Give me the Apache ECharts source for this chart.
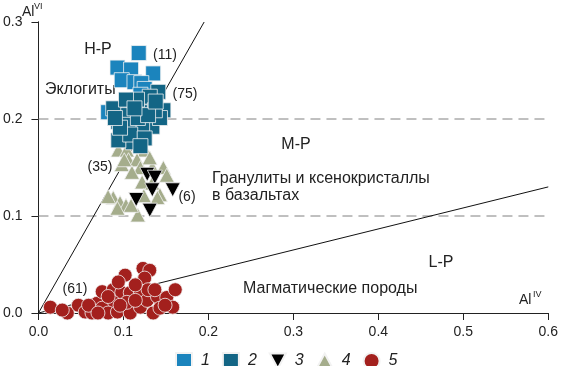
<!DOCTYPE html>
<html>
<head>
<meta charset="utf-8">
<script src="https://cdn.jsdelivr.net/npm/echarts@6/dist/echarts.min.js"></script>
<style>html,body{margin:0;padding:0;background:#fff}#c{width:561px;height:366px}</style>
</head>
<body>
<div id="c"></div>
<script>
// ---- data ----
const xTickLabels = ['0.0','0.1','0.2','0.3','0.4','0.5','0.6'];
const yTickLabels = ['0.0','0.1','0.2','0.3'];
const seriesNames = ['1','2','3','4','5'];

// 1: light-blue squares (eclogites, n=11)
const series1 = [[0.118,0.268],[0.093,0.253],[0.109,0.251],[0.135,0.247],[0.098,0.240],[0.113,0.238],[0.121,0.237],[0.125,0.231],[0.120,0.225],[0.082,0.207],[0.137,0.209]];
// 2: dark-blue squares (eclogites, n=75)
const series2 = [[0.141,0.228],[0.147,0.209],[0.125,0.214],[0.106,0.212],[0.094,0.197],[0.110,0.199],[0.128,0.197],[0.134,0.192],[0.114,0.186],[0.098,0.186],[0.111,0.176],[0.120,0.207],[0.131,0.223],[0.102,0.204],[0.088,0.211],[0.143,0.201],[0.122,0.189],[0.106,0.194],[0.094,0.178],[0.116,0.220],[0.137,0.209],[0.108,0.184],[0.125,0.180],[0.096,0.191],[0.117,0.201],[0.129,0.204],[0.090,0.201],[0.103,0.220],[0.138,0.218],[0.113,0.211],[0.120,0.172]];
// 3: black down-triangles (n=6)
const series3 = [[0.128,0.143],[0.137,0.140],[0.134,0.127],[0.158,0.127],[0.115,0.117],[0.131,0.106]];
// 4: grey-green triangles (granulites, n=35)
const series4 = [[0.094,0.168],[0.104,0.168],[0.125,0.168],[0.106,0.158],[0.116,0.158],[0.098,0.153],[0.120,0.150],[0.134,0.150],[0.147,0.150],[0.110,0.145],[0.122,0.135],[0.134,0.134],[0.151,0.142],[0.143,0.122],[0.088,0.119],[0.096,0.114],[0.103,0.111],[0.093,0.108],[0.117,0.101],[0.140,0.119],[0.109,0.111],[0.082,0.120],[0.124,0.121],[0.101,0.158],[0.131,0.160]];
// 5: red circles (magmatic rocks, n=61)
const series5 = [[0.014,0.006],[0.034,0.000],[0.047,0.008],[0.055,0.001],[0.069,0.010],[0.075,0.022],[0.088,0.024],[0.102,0.039],[0.123,0.046],[0.131,0.044],[0.125,0.036],[0.098,0.021],[0.108,0.021],[0.120,0.022],[0.088,0.011],[0.075,0.005],[0.082,0.000],[0.093,0.001],[0.108,0.000],[0.120,0.006],[0.128,0.013],[0.135,0.000],[0.140,0.017],[0.151,0.016],[0.161,0.024],[0.158,0.006],[0.104,0.011],[0.063,0.000],[0.143,0.005],[0.114,0.013],[0.096,0.008],[0.129,0.024],[0.149,0.008],[0.082,0.017],[0.059,0.008],[0.114,0.029],[0.137,0.024],[0.094,0.032],[0.070,0.000],[0.028,0.003]];

// boundary lines between pressure fields
const hpBoundary = [[0,0],[0.195,0.3]];
const lpBoundary = [[0,0],[0.6,0.13]];
const dashLevels = [0.1, 0.2];

// ---- chart ----
const FONT = 'Arial, "Liberation Sans", sans-serif';
const chart = echarts.init(document.getElementById('c'), null, {renderer:'canvas'});
const border = {borderColor:'#f2f2f2', borderWidth:0.8};

const dashSeries = dashLevels.map(v => ({
  type:'line', data:[[0,v],[0.6,v]], symbol:'none', silent:true, z:1,
  lineStyle:{color:'#808080', width:1, type:[10,6]}
}));

const legendIcons = ['rect','rect','path://M0,0L14,0L7,13Z','path://M7,0L14,13L0,13Z','circle'];

chart.setOption({
  animation:false,
  textStyle:{fontFamily:FONT},
  grid:{left:38, right:11, top:22, bottom:53},
  xAxis:[{
    type:'value', min:0, max:0.6, interval:0.1,
    axisLine:{show:true, lineStyle:{color:'#808080', width:1}},
    axisTick:{show:true, length:7, lineStyle:{color:'#222'}},
    axisLabel:{fontSize:14, color:'#222', margin:12, fontFamily:FONT,
      formatter:(v)=>xTickLabels[Math.round(v*10)]},
    splitLine:{show:false}
  },{
    type:'value', min:0, max:0.6, position:'top',
    axisLine:{show:true, lineStyle:{color:'#222'}},
    axisTick:{show:false}, axisLabel:{show:false}, splitLine:{show:false}
  }],
  yAxis:[{
    type:'value', min:0, max:0.3, interval:0.1,
    axisLine:{show:true, lineStyle:{color:'#222', width:1}},
    axisTick:{show:true, length:7, lineStyle:{color:'#222'}},
    axisLabel:{fontSize:14, color:'#222', margin:16, fontFamily:FONT,
      formatter:(v)=>yTickLabels[Math.round(v*10)]},
    splitLine:{show:false}
  },{
    type:'value', min:0, max:0.3, position:'right',
    axisLine:{show:true, lineStyle:{color:'#222'}},
    axisTick:{show:false}, axisLabel:{show:false}, splitLine:{show:false}
  }],
  legend:{
    data:seriesNames.map((n,i)=>({name:n, icon:legendIcons[i]})),
    left:170, top:347, itemWidth:16, itemHeight:16, itemGap:12,
    textStyle:{fontSize:16, fontStyle:'italic', color:'#222', fontFamily:FONT, padding:[0,0,0,4]}
  },
  series:[
    ...dashSeries,
    {type:'line', data:hpBoundary, symbol:'none', silent:true, z:1, lineStyle:{color:'#111', width:1}},
    {type:'line', data:lpBoundary, symbol:'none', silent:true, z:1, lineStyle:{color:'#111', width:1}},
    {name:'5', type:'scatter', data:series5, symbol:'circle', symbolSize:14, clip:false, z:2,
      itemStyle:Object.assign({color:'#a3201d', opacity:1}, border)},
    {name:'4', type:'scatter', data:series4, symbol:'triangle', symbolSize:[15,14], clip:false, z:2,
      itemStyle:Object.assign({color:'#a5ad8c', opacity:1}, border)},
    {name:'3', type:'scatter', data:series3, symbol:'triangle', symbolRotate:180, symbolSize:[15,14], clip:false, z:2,
      itemStyle:Object.assign({color:'#000000', opacity:1}, border)},
    {name:'1', type:'scatter', data:series1, symbol:'rect', symbolSize:15, clip:false, z:2,
      itemStyle:Object.assign({color:'#1b84bd', opacity:1}, border)},
    {name:'2', type:'scatter', data:series2, symbol:'rect', symbolSize:15, clip:false, z:2,
      itemStyle:Object.assign({color:'#136585', opacity:1}, border)}
  ],
  graphic:[
    {type:'text', x:22, y:12, style:{text:'Al', font:'14px '+FONT, fill:'#222', textVerticalAlign:'middle'}},
    {type:'text', x:34, y:7, style:{text:'VI', font:'9px '+FONT, fill:'#222', textVerticalAlign:'middle'}},
    {type:'text', x:519, y:300, style:{text:'Al', font:'14px '+FONT, fill:'#222', textVerticalAlign:'middle'}},
    {type:'text', x:533, y:295, style:{text:'IV', font:'9px '+FONT, fill:'#222', textVerticalAlign:'middle'}},
    {type:'text', x:98, y:50, style:{text:'H-P', font:'16px '+FONT, fill:'#222', textAlign:'center', textVerticalAlign:'middle'}},
    {type:'text', x:45, y:90, style:{text:'Эклогиты', font:'16px '+FONT, fill:'#222', textVerticalAlign:'middle'}},
    {type:'text', x:296, y:145, style:{text:'M-P', font:'16px '+FONT, fill:'#222', textAlign:'center', textVerticalAlign:'middle'}},
    {type:'text', x:212, y:179, style:{text:'Гранулиты и ксенокристаллы', font:'16px '+FONT, fill:'#222', textVerticalAlign:'middle'}},
    {type:'text', x:212, y:196, style:{text:'в базальтах', font:'16px '+FONT, fill:'#222', textVerticalAlign:'middle'}},
    {type:'text', x:441, y:263, style:{text:'L-P', font:'16px '+FONT, fill:'#222', textAlign:'center', textVerticalAlign:'middle'}},
    {type:'text', x:243, y:289, style:{text:'Магматические породы', font:'16px '+FONT, fill:'#222', textVerticalAlign:'middle'}},
    {type:'text', x:165, y:55, style:{text:'(11)', font:'14px '+FONT, fill:'#222', textAlign:'center', textVerticalAlign:'middle'}},
    {type:'text', x:185, y:94, style:{text:'(75)', font:'14px '+FONT, fill:'#222', textAlign:'center', textVerticalAlign:'middle'}},
    {type:'text', x:100, y:167, style:{text:'(35)', font:'14px '+FONT, fill:'#222', textAlign:'center', textVerticalAlign:'middle'}},
    {type:'text', x:187, y:197, style:{text:'(6)', font:'14px '+FONT, fill:'#222', textAlign:'center', textVerticalAlign:'middle'}},
    {type:'text', x:75, y:289, style:{text:'(61)', font:'14px '+FONT, fill:'#222', textAlign:'center', textVerticalAlign:'middle'}}
  ]
});
</script>
</body>
</html>
